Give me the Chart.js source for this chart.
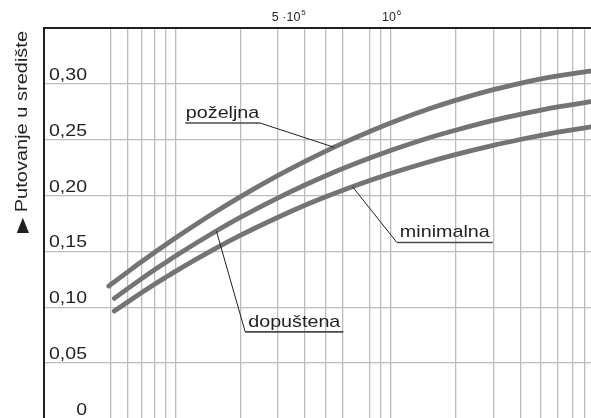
<!DOCTYPE html>
<html>
<head>
<meta charset="utf-8">
<script src="https://cdn.jsdelivr.net/npm/chart.js@4/dist/chart.umd.min.js"></script>
<style>
  html, body { margin: 0; padding: 0; overflow: hidden; background: #fff; }
  canvas { display: block; }
</style>
</head>
<body>
<canvas id="c" width="600" height="424"></canvas>
<script>
// Number of trips (log axis) and the three recommended curves
const xValues   = [4.9e4, 5.2e4, 6e4, 7e4, 8e4, 9e4, 1e5, 1.5e5, 2e5, 3e5, 4e5, 5e5, 6e5, 8e5, 1e6, 1.5e6, 2e6, 3e6, 4e6, 5e6, 6e6, 8e6, 1e7];
const pozeljna  = [0.1190, 0.1228, 0.1317, 0.1412, 0.1491, 0.1560, 0.1620, 0.1841, 0.1988, 0.2180, 0.2306, 0.2398, 0.2469, 0.2574, 0.2650, 0.2774, 0.2852, 0.2948, 0.3005, 0.3044, 0.3071, 0.3108, 0.3130];
const dopustena = [null,   0.1080, 0.1167, 0.1259, 0.1336, 0.1401, 0.1459, 0.1667, 0.1804, 0.1980, 0.2095, 0.2178, 0.2242, 0.2336, 0.2404, 0.2516, 0.2585, 0.2673, 0.2727, 0.2765, 0.2793, 0.2833, 0.2860];
const minimalna = [null,   0.0966, 0.1048, 0.1134, 0.1206, 0.1268, 0.1322, 0.1516, 0.1643, 0.1806, 0.1913, 0.1989, 0.2048, 0.2135, 0.2198, 0.2301, 0.2367, 0.2450, 0.2502, 0.2539, 0.2567, 0.2607, 0.2636];
const seriesList = [pozeljna, dopustena, minimalna];

// Log-paper grid and axis labels
const xGridValues   = [5e4, 6e4, 7e4, 8e4, 9e4, 1e5, 2e5, 3e5, 4e5, 5e5, 6e5, 8e5, 9e5, 1e6, 2e6, 3e6, 4e6, 5e6, 6e6, 7e6, 8e6, 9e6];
const topLabelValues = [5e5, 1e6];
const topLabelBase   = ['5 ·10', '10'];
const topLabelExp    = ['5', '6'];
const yTickValues = [0, 0.05, 0.10, 0.15, 0.20, 0.25, 0.30, 0.35];
const yTickLabels = ['0', '0,05', '0,10', '0,15', '0,20', '0,25', '0,30', ''];
const yTitle = '▶ Putovanje u središte';

// Callouts: text, curve, point on curve, underline span and height
const calloutTexts   = ['poželjna', 'dopuštena', 'minimalna'];
const calloutSeries  = [0, 1, 2];
const calloutTargetX = [5.46e5, 1.55e5, 6.65e5];
const calloutFromX   = [1.11e5, 2.11e5, 1.07e6];
const calloutToX     = [2.47e5, 6.03e5, 2.98e6];
const calloutY       = [0.265, 0.078, 0.158];
const calloutJoin    = ['end', 'start', 'start'];

const FONT = '"Liberation Sans", Arial, Helvetica, sans-serif';
const INK = '#231f20';
const topLabelShift = [-37, 1];

function valueAt(series, xv) {
  for (let i = 1; i < xValues.length; i++) {
    if (series[i - 1] == null) continue;
    if (xv <= xValues[i]) {
      const t = (Math.log(xv) - Math.log(xValues[i - 1])) / (Math.log(xValues[i]) - Math.log(xValues[i - 1]));
      return series[i - 1] + t * (series[i] - series[i - 1]);
    }
  }
  return series[series.length - 1];
}

function wideText(ctx, str, px, py, align, sx, size) {
  ctx.save();
  ctx.font = size + 'px ' + FONT;
  ctx.fillStyle = INK;
  ctx.translate(px, py);
  ctx.scale(sx, 1);
  ctx.textAlign = align;
  ctx.textBaseline = 'alphabetic';
  ctx.fillText(str, 0, 0);
  ctx.restore();
}

const textPlugin = {
  id: 'drawnText',
  afterDraw(chart) {
    const { ctx, chartArea: a, scales: { x, y } } = chart;

    // value labels inside the plot, above each horizontal line
    yTickValues.forEach((v, i) => {
      if (!yTickLabels[i]) return;
      wideText(ctx, yTickLabels[i], a.left + 43, y.getPixelForValue(v) - 4, 'right', 1.22, 16);
    });

    // rotated axis title
    ctx.save();
    ctx.font = '16px ' + FONT;
    ctx.fillStyle = INK;
    ctx.translate(a.left - 17, a.top + 3);
    ctx.rotate(-Math.PI / 2);
    ctx.scale(1.25, 1);
    ctx.textAlign = 'right';
    ctx.fillText(yTitle, 0, 0);
    ctx.restore();

    // powers of ten above the frame
    topLabelValues.forEach((v, i) => {
      ctx.save();
      ctx.fillStyle = INK;
      ctx.font = '12.5px ' + FONT;
      const wb = ctx.measureText(topLabelBase[i]).width;
      ctx.font = '8px ' + FONT;
      const we = ctx.measureText(topLabelExp[i]).width;
      const left = x.getPixelForValue(v) - (wb + 1 + we) / 2 + topLabelShift[i];
      ctx.textAlign = 'left';
      ctx.font = '12.5px ' + FONT;
      ctx.fillText(topLabelBase[i], left, a.top - 7);
      ctx.font = '8px ' + FONT;
      ctx.fillText(topLabelExp[i], left + wb + 1, a.top - 13);
      ctx.restore();
    });

    // callouts with underline and leader line
    calloutTexts.forEach((t, i) => {
      const x0 = x.getPixelForValue(calloutFromX[i]);
      const x1 = x.getPixelForValue(calloutToX[i]);
      const yy = y.getPixelForValue(calloutY[i]);
      const tx = x.getPixelForValue(calloutTargetX[i]);
      const ty = y.getPixelForValue(valueAt(seriesList[calloutSeries[i]], calloutTargetX[i]));
      const jx = calloutJoin[i] === 'end' ? x1 : x0;
      ctx.save();
      ctx.strokeStyle = INK;
      ctx.lineWidth = 1;
      ctx.beginPath();
      ctx.moveTo(jx, yy);
      ctx.lineTo(tx, ty);
      ctx.stroke();
      ctx.strokeStyle = '#4a4a4a';
      ctx.lineWidth = 1.6;
      ctx.beginPath();
      ctx.moveTo(x0, yy);
      ctx.lineTo(x1, yy);
      ctx.stroke();
      ctx.restore();
      wideText(ctx, t, (x0 + x1) / 2, yy - 5, 'center', 1.16, 17);
    });
  }
};

const makeData = s => xValues.map((v, i) => ({ x: v, y: s[i] }));
const lineStyle = {
  borderColor: '#747477',
  borderWidth: 4.8,
  pointRadius: 0,
  fill: false,
  cubicInterpolationMode: 'monotone',
  borderCapStyle: 'round',
  borderJoinStyle: 'round'
};

new Chart(document.getElementById('c'), {
  type: 'line',
  data: {
    datasets: [
      Object.assign({ label: calloutTexts[0], data: makeData(pozeljna) }, lineStyle),
      Object.assign({ label: calloutTexts[1], data: makeData(dopustena) }, lineStyle),
      Object.assign({ label: calloutTexts[2], data: makeData(minimalna) }, lineStyle)
    ]
  },
  options: {
    responsive: false,
    animation: false,
    devicePixelRatio: 1,
    layout: { padding: { top: 0, left: 0, right: 0, bottom: 5 } },
    plugins: { legend: { display: false }, tooltip: { enabled: false } },
    scales: {
      x: {
        type: 'logarithmic',
        position: 'top',
        min: 24500,
        max: 9.4e6,
        afterBuildTicks: s => { s.ticks = xGridValues.map(v => ({ value: v })); },
        afterFit: s => { s.height = 28; },
        ticks: { display: false },
        grid: { color: '#bdbdbd', lineWidth: 1.3, drawTicks: false },
        border: { display: true, color: INK, width: 2 }
      },
      y: {
        type: 'linear',
        min: 0,
        max: 0.35,
        afterBuildTicks: s => { s.ticks = yTickValues.map(v => ({ value: v })); },
        afterFit: s => { s.width = 44; },
        ticks: { display: false },
        grid: { color: '#bdbdbd', lineWidth: 1.3, drawTicks: false },
        border: { display: true, color: INK, width: 2 }
      }
    }
  },
  plugins: [textPlugin]
});
</script>
</body>
</html>
